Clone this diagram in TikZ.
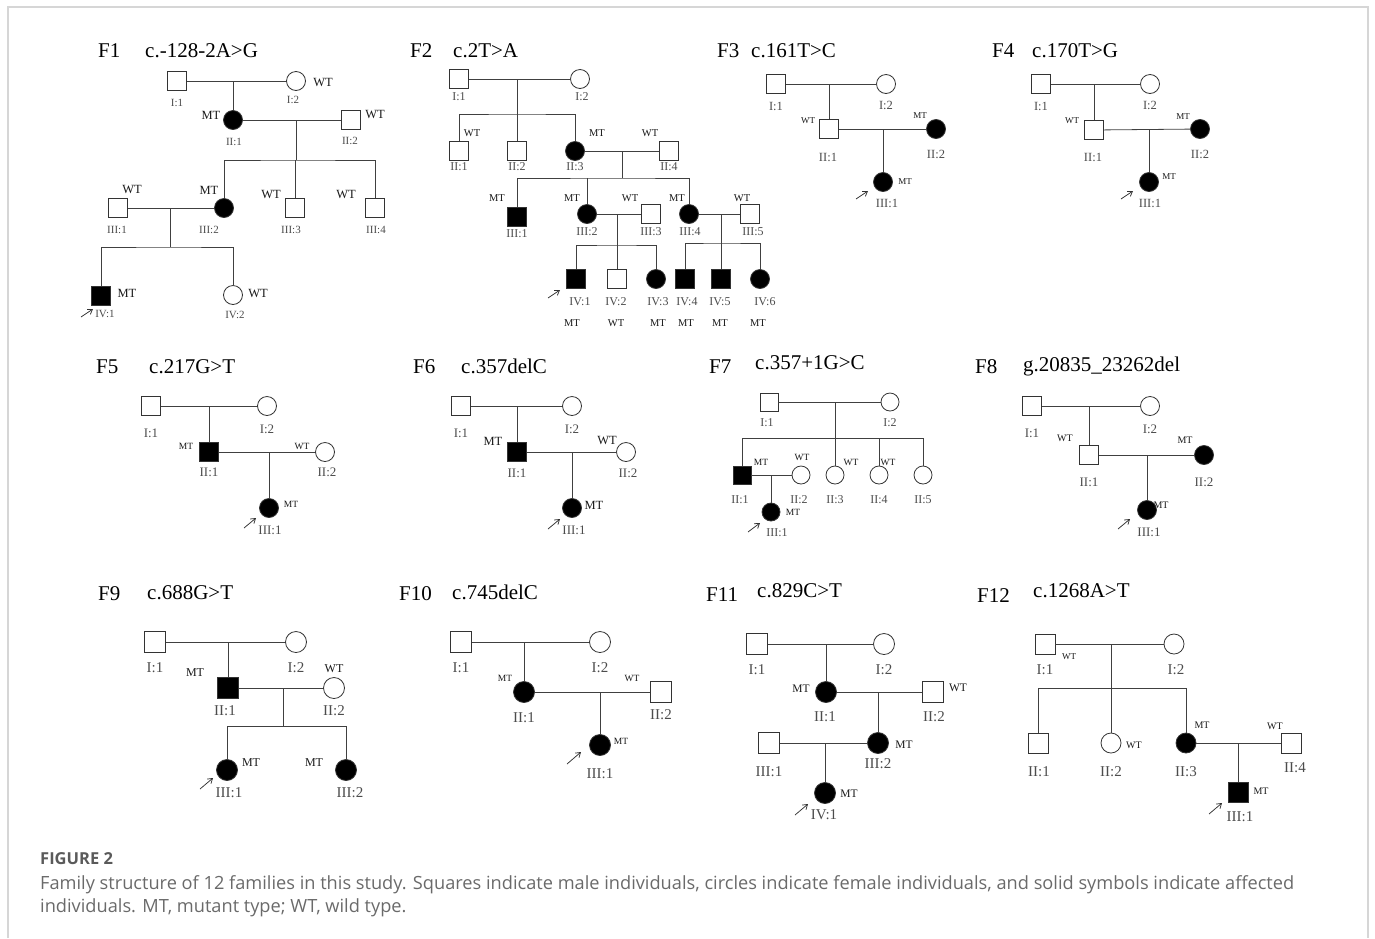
\documentclass[tikz,border=0pt]{standalone}
\usepackage{fontspec}
\setmainfont{Liberation Serif}
\newfontfamily\capfont{Open Sans}
\usetikzlibrary{positioning, arrows.meta}
\definecolor{framegray}{HTML}{D6D6D6}
\definecolor{capgray}{HTML}{6A6A6A}
\definecolor{figgray}{HTML}{5A5A5A}
\tikzset{
	idsize/.store in=\idsz,
	gtsize/.store in=\gtsz,
	symsize/.store in=\symsz,
	idsize=12,
	gtsize=10,
	symsize=19,
	malenode/.style={
			rectangle,
			draw=black!80,
			line width=0.8pt,
			fill=white,
			minimum size=\symsz,
			inner sep=0pt
		},
	femalenode/.style={
			malenode,
			circle
		},
	affmalenode/.style={
			malenode,
			fill=black
		},
	afffemalenode/.style={
			femalenode,
			fill=black
		},
	idnode/.style={
			inner sep=0pt,
			text=black!70,
			font=\fontsize{\idsz}{\idsz}\selectfont
		},
	gtnode/.style={
			inner sep=0pt,
			text=black!90,
			font=\fontsize{\gtsz}{\gtsz}\selectfont
		},
	titlenode/.style={
			inner sep=0pt,
			anchor=base west,
			font=\fontsize{21}{21}\selectfont
		},
	pedline/.style={
			draw=black!75,
			line width=0.8pt
		},
	probandarrow/.style={
			draw=black!80,
			line width=0.75pt,
			-{Straight Barb[length=4.5pt,width=6pt]}
		},
	captext/.style={
			anchor=base west,
			inner sep=0pt,
			text=capgray,
			font=\capfont\fontsize{18.2}{18.2}\selectfont
		}
}

\begin{document}
\begin{tikzpicture}[x=1pt, y=-1pt]
\useasboundingbox (0,0) rectangle (1375,938);
\draw[framegray, line width=1.5pt] (8,938) -- (8,7) -- (1368,7) -- (1368,938);

% F1
\begin{scope}[idsize=11, gtsize=12.5]
\node[titlenode] (f1t) at (98,57) {F1};
\node[titlenode] (f1v) at (145,57) {c.-128-2A>G};
\node[malenode] (f1a) at (177,81) {};
\node[femalenode] (f1b) at (296,81) {};
\node[afffemalenode] (f1c) at (233,120) {};
\node[malenode] (f1d) at (351,120) {};
\node[malenode] (f1e) at (118,208) {};
\node[afffemalenode] (f1f) at (224,208) {};
\node[malenode] (f1g) at (295,208) {};
\node[malenode] (f1h) at (375,208) {};
\node[affmalenode] (f1i) at (101,296) {};
\node[femalenode] (f1j) at (233,295) {};
\coordinate (f1m1) at (233,81);
\coordinate (f1m2) at (296,120);
\coordinate (f1s2) at (296,160);
\coordinate (f1m3) at (170,208);
\coordinate (f1s3) at (170,247);
\draw[pedline] (f1a) -- (f1b);
\draw[pedline] (f1m1) -- (f1c);
\draw[pedline] (f1c) -- (f1d);
\draw[pedline] (f1m2) -- (f1s2);
\draw[pedline] (f1f) |- (f1s2) -| (f1h);
\draw[pedline] (f1g) -- (f1g |- f1s2);
\draw[pedline] (f1e) -- (f1f);
\draw[pedline] (f1m3) -- (f1s3);
\draw[pedline] (f1i) |- (f1s3) -| (f1j);
\node[idnode] (f1al) at (177,103) {I:1};
\node[idnode] (f1bl) at (293,100) {I:2};
\node[idnode] (f1cl) at (234,142) {II:1};
\node[idnode] (f1dl) at (350,141) {II:2};
\node[idnode] (f1el) at (117,230) {III:1};
\node[idnode] (f1fl) at (209,230) {III:2};
\node[idnode] (f1gl) at (291,230) {III:3};
\node[idnode] (f1hl) at (376,230) {III:4};
\node[idnode] (f1il) at (105,314) {IV:1};
\node[idnode] (f1jl) at (235,315) {IV:2};
\node[gtnode] (f1bg) at (323,82) {WT};
\node[gtnode] (f1cg) at (211,115) {MT};
\node[gtnode] (f1dg) at (375,114) {WT};
\node[gtnode] (f1eg) at (132,189) {WT};
\node[gtnode] (f1fg) at (209,190) {MT};
\node[gtnode] (f1gg) at (271,194) {WT};
\node[gtnode] (f1hg) at (346,194) {WT};
\node[gtnode] (f1ig) at (127,293) {MT};
\node[gtnode] (f1jg) at (258,293) {WT};
\coordinate (f1p) at (81,317);
\draw[probandarrow] (f1p) -- ++(12,-8);
\end{scope}

% F2
\begin{scope}[idsize=12, gtsize=10.5]
\node[titlenode] (f2t) at (410,57) {F2};
\node[titlenode] (f2v) at (453,57) {c.2T>A};
\node[malenode] (f2a) at (459,79) {};
\node[femalenode] (f2b) at (580,79) {};
\node[malenode] (f2c) at (459,151) {};
\node[malenode] (f2d) at (517,151) {};
\node[afffemalenode] (f2e) at (575,151) {};
\node[malenode] (f2f) at (669,151) {};
\node[affmalenode] (f2g) at (517,217) {};
\node[afffemalenode] (f2h) at (587,214) {};
\node[malenode] (f2i) at (651,214) {};
\node[afffemalenode] (f2j) at (689,214) {};
\node[malenode] (f2k) at (750,214) {};
\node[affmalenode] (f2l) at (576,279) {};
\node[malenode] (f2m) at (617,279) {};
\node[afffemalenode] (f2n) at (656,279) {};
\node[affmalenode] (f2o) at (685,279) {};
\node[affmalenode] (f2p) at (721,279) {};
\node[afffemalenode] (f2q) at (760,279) {};
\coordinate (f2m1) at (517,79);
\coordinate (f2s1) at (517,114);
\coordinate (f2m2) at (622,151);
\coordinate (f2s2) at (622,178);
\coordinate (f2m3) at (617,214);
\coordinate (f2s3) at (617,245);
\coordinate (f2m4) at (721,214);
\coordinate (f2s4) at (721,243);
\draw[pedline] (f2a) -- (f2b);
\draw[pedline] (f2m1) -- (f2s1);
\draw[pedline] (f2c) |- (f2s1) -| (f2e);
\draw[pedline] (f2d) -- (f2d |- f2s1);
\draw[pedline] (f2e) -- (f2f);
\draw[pedline] (f2m2) -- (f2s2);
\draw[pedline] (f2g) |- (f2s2) -| (f2j);
\draw[pedline] (f2h) -- (f2h |- f2s2);
\draw[pedline] (f2h) -- (f2i);
\draw[pedline] (f2m3) -- (f2s3);
\draw[pedline] (f2l) |- (f2s3) -| (f2n);
\draw[pedline] (f2m) -- (f2m |- f2s3);
\draw[pedline] (f2j) -- (f2k);
\draw[pedline] (f2m4) -- (f2s4);
\draw[pedline] (f2o) |- (f2s4) -| (f2q);
\draw[pedline] (f2p) -- (f2p |- f2s4);
\node[idnode] (f2al) at (459,97) {I:1};
\node[idnode] (f2bl) at (582,97) {I:2};
\node[idnode] (f2cl) at (459,167) {II:1};
\node[idnode] (f2dl) at (517,167) {II:2};
\node[idnode] (f2el) at (575,167) {II:3};
\node[idnode] (f2fl) at (669,167) {II:4};
\node[idnode] (f2gl) at (517,234) {III:1};
\node[idnode] (f2hl) at (587,232) {III:2};
\node[idnode] (f2il) at (651,232) {III:3};
\node[idnode] (f2jl) at (690,232) {III:4};
\node[idnode] (f2kl) at (753,232) {III:5};
\node[idnode] (f2ll) at (580,302) {IV:1};
\node[idnode] (f2ml) at (616,302) {IV:2};
\node[idnode] (f2nl) at (658,302) {IV:3};
\node[idnode] (f2ol) at (687,302) {IV:4};
\node[idnode] (f2pl) at (720,302) {IV:5};
\node[idnode] (f2ql) at (765,302) {IV:6};
\node[gtnode] (f2cg) at (472,133) {WT};
\node[gtnode] (f2eg) at (597,133) {MT};
\node[gtnode] (f2fg) at (650,133) {WT};
\node[gtnode] (f2gg) at (497,198) {MT};
\node[gtnode] (f2hg) at (572,198) {MT};
\node[gtnode] (f2ig) at (630,198) {WT};
\node[gtnode] (f2jg) at (677,198) {MT};
\node[gtnode] (f2kg) at (742,198) {WT};
\node[gtnode] (f2lg) at (572,323) {MT};
\node[gtnode] (f2mg) at (616,323) {WT};
\node[gtnode] (f2ng) at (658,323) {MT};
\node[gtnode] (f2og) at (686,323) {MT};
\node[gtnode] (f2pg) at (720,323) {MT};
\node[gtnode] (f2qg) at (758,323) {MT};
\coordinate (f2p) at (548,298);
\draw[probandarrow] (f2p) -- ++(12,-8);
\end{scope}

% F3
\begin{scope}[idsize=12.5, gtsize=9]
\node[titlenode] (f3t) at (717,57) {F3};
\node[titlenode] (f3v) at (751,57) {c.161T>C};
\node[malenode] (f3a) at (776,84) {};
\node[femalenode] (f3b) at (886,84) {};
\node[malenode] (f3c) at (829,129) {};
\node[afffemalenode] (f3d) at (936,129) {};
\node[afffemalenode] (f3e) at (883,182) {};
\coordinate (f3m1) at (829,84);
\coordinate (f3m2) at (883,129);
\draw[pedline] (f3a) -- (f3b);
\draw[pedline] (f3m1) -- (f3c);
\draw[pedline] (f3c) -- (f3d);
\draw[pedline] (f3m2) -- (f3e);
\node[idnode] (f3al) at (776,106) {I:1};
\node[idnode] (f3bl) at (886,105) {I:2};
\node[idnode] (f3cl) at (828,157) {II:1};
\node[idnode] (f3dl) at (936,154) {II:2};
\node[idnode] (f3el) at (887,203) {III:1};
\node[gtnode] (f3cg) at (808,121) {WT};
\node[gtnode] (f3dg) at (920,116) {MT};
\node[gtnode] (f3eg) at (905,182) {MT};
\coordinate (f3p) at (856,199);
\draw[probandarrow] (f3p) -- ++(12,-8);
\end{scope}

% F4
\begin{scope}[idsize=12.5, gtsize=9]
\node[titlenode] (f4t) at (992,57) {F4};
\node[titlenode] (f4v) at (1032,57) {c.170T>G};
\node[malenode] (f4a) at (1041,84) {};
\node[femalenode] (f4b) at (1150,84) {};
\node[malenode] (f4c) at (1094,130) {};
\node[afffemalenode] (f4d) at (1200,129) {};
\node[afffemalenode] (f4e) at (1149,182) {};
\coordinate (f4m1) at (1094,84);
\coordinate (f4m2) at (1149,130);
\draw[pedline] (f4a) -- (f4b);
\draw[pedline] (f4m1) -- (f4c);
\draw[pedline] (f4c) -- (f4d);
\draw[pedline] (f4m2) -- (f4e);
\node[idnode] (f4al) at (1041,106) {I:1};
\node[idnode] (f4bl) at (1150,105) {I:2};
\node[idnode] (f4cl) at (1093,157) {II:1};
\node[idnode] (f4dl) at (1200,154) {II:2};
\node[idnode] (f4el) at (1150,203) {III:1};
\node[gtnode] (f4cg) at (1072,121) {WT};
\node[gtnode] (f4dg) at (1183,117) {MT};
\node[gtnode] (f4eg) at (1169,177) {MT};
\coordinate (f4p) at (1121,199);
\draw[probandarrow] (f4p) -- ++(12,-8);
\end{scope}

% F5
\begin{scope}[idsize=13, gtsize=9.5]
\node[titlenode] (f5t) at (96,373) {F5};
\node[titlenode] (f5v) at (149,373) {c.217G>T};
\node[malenode] (f5a) at (151,406) {};
\node[femalenode] (f5b) at (267,406) {};
\node[affmalenode] (f5c) at (209,452) {};
\node[femalenode] (f5d) at (325,452) {};
\node[afffemalenode] (f5e) at (269,508) {};
\coordinate (f5m1) at (209,406);
\coordinate (f5m2) at (269,452);
\draw[pedline] (f5a) -- (f5b);
\draw[pedline] (f5m1) -- (f5c);
\draw[pedline] (f5c) -- (f5d);
\draw[pedline] (f5m2) -- (f5e);
\node[idnode] (f5al) at (151,433) {I:1};
\node[idnode] (f5bl) at (267,429) {I:2};
\node[idnode] (f5cl) at (209,472) {II:1};
\node[idnode] (f5dl) at (327,472) {II:2};
\node[idnode] (f5el) at (270,530) {III:1};
\node[gtnode] (f5cg) at (186,446) {MT};
\node[gtnode] (f5dg) at (302,446) {WT};
\node[gtnode] (f5eg) at (291,504) {MT};
\coordinate (f5p) at (244,528);
\draw[probandarrow] (f5p) -- ++(12,-10);
\end{scope}

% F6
\begin{scope}[idsize=13, gtsize=12.5]
\node[titlenode] (f6t) at (413,373) {F6};
\node[titlenode] (f6v) at (461,373) {c.357delC};
\node[malenode] (f6a) at (461,406) {};
\node[femalenode] (f6b) at (572,406) {};
\node[affmalenode] (f6c) at (517,452) {};
\node[femalenode] (f6d) at (626,452) {};
\node[afffemalenode] (f6e) at (572,508) {};
\coordinate (f6m1) at (517,406);
\coordinate (f6m2) at (572,452);
\draw[pedline] (f6a) -- (f6b);
\draw[pedline] (f6m1) -- (f6c);
\draw[pedline] (f6c) -- (f6d);
\draw[pedline] (f6m2) -- (f6e);
\node[idnode] (f6al) at (461,433) {I:1};
\node[idnode] (f6bl) at (572,429) {I:2};
\node[idnode] (f6cl) at (517,473) {II:1};
\node[idnode] (f6dl) at (628,473) {II:2};
\node[idnode] (f6el) at (574,530) {III:1};
\node[gtnode] (f6cg) at (493,441) {MT};
\node[gtnode] (f6dg) at (607,440) {WT};
\node[gtnode] (f6eg) at (594,505) {MT};
\coordinate (f6p) at (548,529);
\draw[probandarrow] (f6p) -- ++(12,-10);
\end{scope}

% F7
\begin{scope}[idsize=12, gtsize=9.5, symsize=18]
\node[titlenode] (f7t) at (709,373) {F7};
\node[titlenode] (f7v) at (755,369) {c.357+1G>C};
\node[malenode] (f7a) at (769,402) {};
\node[femalenode] (f7b) at (890,402) {};
\node[affmalenode] (f7c) at (742,475) {};
\node[femalenode] (f7d) at (801,475) {};
\node[femalenode] (f7e) at (835,475) {};
\node[femalenode] (f7f) at (879,475) {};
\node[femalenode] (f7g) at (923,475) {};
\node[afffemalenode] (f7h) at (771,512) {};
\coordinate (f7m1) at (835,402);
\coordinate (f7s1) at (835,438);
\coordinate (f7m2) at (771,475);
\draw[pedline] (f7a) -- (f7b);
\draw[pedline] (f7m1) -- (f7s1);
\draw[pedline] (f7c) |- (f7s1) -| (f7g);
\draw[pedline] (f7e) -- (f7e |- f7s1);
\draw[pedline] (f7f) -- (f7f |- f7s1);
\draw[pedline] (f7c) -- (f7d);
\draw[pedline] (f7m2) -- (f7h);
\node[idnode] (f7al) at (767,423) {I:1};
\node[idnode] (f7bl) at (890,423) {I:2};
\node[idnode] (f7cl) at (740,500) {II:1};
\node[idnode] (f7dl) at (799,500) {II:2};
\node[idnode] (f7el) at (835,500) {II:3};
\node[idnode] (f7fl) at (879,500) {II:4};
\node[idnode] (f7gl) at (923,500) {II:5};
\node[idnode] (f7hl) at (777,533) {III:1};
\node[gtnode] (f7cg) at (761,462) {MT};
\node[gtnode] (f7dg) at (802,457) {WT};
\node[gtnode] (f7eg) at (851,462) {WT};
\node[gtnode] (f7fg) at (888,462) {WT};
\node[gtnode] (f7hg) at (793,512) {MT};
\coordinate (f7p) at (748,532);
\draw[probandarrow] (f7p) -- ++(12,-9);
\end{scope}

% F8
\begin{scope}[idsize=13, gtsize=10]
\node[titlenode] (f8t) at (975,373) {F8};
\node[titlenode] (f8v) at (1023,371) {g.20835\_23262del};
\node[malenode] (f8a) at (1032,406) {};
\node[femalenode] (f8b) at (1150,406) {};
\node[malenode] (f8c) at (1089,455) {};
\node[afffemalenode] (f8d) at (1204,455) {};
\node[afffemalenode] (f8e) at (1147,510) {};
\coordinate (f8m1) at (1089,406);
\coordinate (f8m2) at (1147,455);
\draw[pedline] (f8a) -- (f8b);
\draw[pedline] (f8m1) -- (f8c);
\draw[pedline] (f8c) -- (f8d);
\draw[pedline] (f8m2) -- (f8e);
\node[idnode] (f8al) at (1032,433) {I:1};
\node[idnode] (f8bl) at (1150,429) {I:2};
\node[idnode] (f8cl) at (1089,482) {II:1};
\node[idnode] (f8dl) at (1204,482) {II:2};
\node[idnode] (f8el) at (1149,532) {III:1};
\node[gtnode] (f8cg) at (1065,438) {WT};
\node[gtnode] (f8dg) at (1185,440) {MT};
\node[gtnode] (f8eg) at (1161,505) {MT};
\coordinate (f8p) at (1118,529);
\draw[probandarrow] (f8p) -- ++(12,-10);
\end{scope}

% F9
\begin{scope}[idsize=15, gtsize=12, symsize=21]
\node[titlenode] (f9t) at (98,600) {F9};
\node[titlenode] (f9v) at (147,599) {c.688G>T};
\node[malenode] (f9a) at (155,642) {};
\node[femalenode] (f9b) at (296,642) {};
\node[affmalenode] (f9c) at (228,688) {};
\node[femalenode] (f9d) at (334,688) {};
\node[afffemalenode] (f9e) at (227,770) {};
\node[afffemalenode] (f9f) at (346,770) {};
\coordinate (f9m1) at (228,642);
\coordinate (f9m2) at (283,688);
\coordinate (f9s2) at (283,726);
\draw[pedline] (f9a) -- (f9b);
\draw[pedline] (f9m1) -- (f9c);
\draw[pedline] (f9c) -- (f9d);
\draw[pedline] (f9m2) -- (f9s2);
\draw[pedline] (f9e) |- (f9s2) -| (f9f);
\node[idnode] (f9al) at (155,668) {I:1};
\node[idnode] (f9bl) at (296,668) {I:2};
\node[idnode] (f9cl) at (225,711) {II:1};
\node[idnode] (f9dl) at (334,711) {II:2};
\node[idnode] (f9el) at (229,793) {III:1};
\node[idnode] (f9fl) at (350,793) {III:2};
\node[gtnode] (f9cg) at (195,673) {MT};
\node[gtnode] (f9dg) at (334,669) {WT};
\node[gtnode] (f9eg) at (251,763) {MT};
\node[gtnode] (f9fg) at (314,763) {MT};
\coordinate (f9p) at (200,789);
\draw[probandarrow] (f9p) -- ++(13,-11);
\end{scope}

% F10
\begin{scope}[idsize=15, gtsize=9.5, symsize=21]
\node[titlenode] (f10t) at (399,600) {F10};
\node[titlenode] (f10v) at (452,599) {c.745delC};
\node[malenode] (f10a) at (461,642) {};
\node[femalenode] (f10b) at (600,642) {};
\node[afffemalenode] (f10c) at (524,692) {};
\node[malenode] (f10d) at (661,692) {};
\node[afffemalenode] (f10e) at (600,745) {};
\coordinate (f10m1) at (524,642);
\coordinate (f10m2) at (600,692);
\draw[pedline] (f10a) -- (f10b);
\draw[pedline] (f10m1) -- (f10c);
\draw[pedline] (f10c) -- (f10d);
\draw[pedline] (f10m2) -- (f10e);
\node[idnode] (f10al) at (461,668) {I:1};
\node[idnode] (f10bl) at (600,668) {I:2};
\node[idnode] (f10cl) at (524,718) {II:1};
\node[idnode] (f10dl) at (661,715) {II:2};
\node[idnode] (f10el) at (600,774) {III:1};
\node[gtnode] (f10cg) at (505,678) {MT};
\node[gtnode] (f10dg) at (632,678) {WT};
\node[gtnode] (f10eg) at (621,741) {MT};
\coordinate (f10p) at (567,764);
\draw[probandarrow] (f10p) -- ++(14,-12);
\end{scope}

% F11
\begin{scope}[idsize=15, gtsize=11.5, symsize=21]
\node[titlenode] (f11t) at (706,601) {F11};
\node[titlenode] (f11v) at (757,597) {c.829C>T};
\node[malenode] (f11a) at (757,644) {};
\node[femalenode] (f11b) at (884,644) {};
\node[afffemalenode] (f11c) at (826,692) {};
\node[malenode] (f11d) at (933,692) {};
\node[malenode] (f11e) at (769,743) {};
\node[afffemalenode] (f11f) at (878,743) {};
\node[afffemalenode] (f11g) at (825,793) {};
\coordinate (f11m1) at (826,644);
\coordinate (f11m2) at (878,692);
\coordinate (f11m3) at (825,743);
\draw[pedline] (f11a) -- (f11b);
\draw[pedline] (f11m1) -- (f11c);
\draw[pedline] (f11c) -- (f11d);
\draw[pedline] (f11m2) -- (f11f);
\draw[pedline] (f11e) -- (f11f);
\draw[pedline] (f11m3) -- (f11g);
\node[idnode] (f11al) at (757,670) {I:1};
\node[idnode] (f11bl) at (884,670) {I:2};
\node[idnode] (f11cl) at (825,717) {II:1};
\node[idnode] (f11dl) at (934,717) {II:2};
\node[idnode] (f11el) at (769,772) {III:1};
\node[idnode] (f11fl) at (878,764) {III:2};
\node[idnode] (f11gl) at (824,815) {IV:1};
\node[gtnode] (f11cg) at (801,689) {MT};
\node[gtnode] (f11dg) at (958,688) {WT};
\node[gtnode] (f11fg) at (904,745) {MT};
\node[gtnode] (f11gg) at (849,794) {MT};
\coordinate (f11p) at (795,815);
\draw[probandarrow] (f11p) -- ++(13,-11);
\end{scope}

% F12
\begin{scope}[idsize=15, gtsize=10, symsize=20]
\node[titlenode] (f12t) at (977,602) {F12};
\node[titlenode] (f12v) at (1033,597) {c.1268A>T};
\node[malenode] (f12a) at (1045,644) {};
\node[femalenode] (f12b) at (1174,644) {};
\node[malenode] (f12c) at (1038,743) {};
\node[femalenode] (f12d) at (1111,743) {};
\node[afffemalenode] (f12e) at (1186,743) {};
\node[malenode] (f12f) at (1291,743) {};
\node[affmalenode] (f12g) at (1238,792) {};
\coordinate (f12m1) at (1111,644);
\coordinate (f12s1) at (1111,688);
\coordinate (f12m2) at (1238,743);
\draw[pedline] (f12a) -- (f12b);
\draw[pedline] (f12m1) -- (f12s1);
\draw[pedline] (f12c) |- (f12s1) -| (f12e);
\draw[pedline] (f12d) -- (f12d |- f12s1);
\draw[pedline] (f12e) -- (f12f);
\draw[pedline] (f12m2) -- (f12g);
\node[idnode] (f12al) at (1045,670) {I:1};
\node[idnode] (f12bl) at (1176,670) {I:2};
\node[idnode] (f12cl) at (1039,772) {II:1};
\node[idnode] (f12dl) at (1111,772) {II:2};
\node[idnode] (f12el) at (1186,772) {II:3};
\node[idnode] (f12fl) at (1295,768) {II:4};
\node[idnode] (f12gl) at (1240,817) {III:1};
\node[gtnode, font=\fontsize{9}{9}\selectfont] (f12ag) at (1069,657) {WT};
\node[gtnode] (f12dg) at (1134,745) {WT};
\node[gtnode] (f12eg) at (1202,725) {MT};
\node[gtnode] (f12fg) at (1275,726) {WT};
\node[gtnode] (f12gg) at (1261,791) {MT};
\coordinate (f12p) at (1209,814);
\draw[probandarrow] (f12p) -- ++(13,-11);
\end{scope}

% caption
\node[captext, text=figgray, font=\capfont\bfseries\fontsize{16.5}{16.5}\selectfont] (capa) at (40,864) {FIGURE 2};
\node[captext] (capb) at (40,889) {Family structure of 12 families in this study. Squares indicate male individuals, circles indicate female individuals, and solid symbols indicate affected};
\node[captext] (capc) at (40,912) {individuals. MT, mutant type; WT, wild type.};
\end{tikzpicture}
\end{document}
